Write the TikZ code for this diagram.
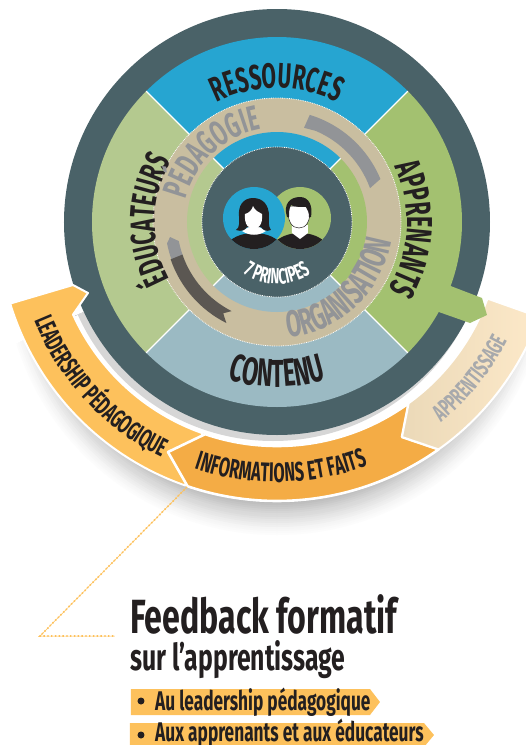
\documentclass[tikz,border=0pt]{standalone}
\usepackage{fontspec}
\usetikzlibrary{decorations.text}
\setmainfont{Fira Sans}
\newfontfamily\ringfont[FakeStretch=0.6]{Fira Sans}
\newfontfamily\titlefont[FakeStretch=0.67]{Fira Sans}
\newfontfamily\barfont[FakeStretch=0.64]{Fira Sans}
\newcommand{\ringtype}[1]{\ringfont\bfseries\fontsize{#1}{#1}\selectfont}
\definecolor{ringdark}{HTML}{4A6268}
\definecolor{resblue}{HTML}{26A5D1}
\definecolor{appgreen}{HTML}{A3C170}
\definecolor{edugreen}{HTML}{B4C98F}
\definecolor{contblue}{HTML}{9BBAC3}
\definecolor{pedbeige}{HTML}{C9BEA0}
\definecolor{ribbongrey}{HTML}{929497}
\definecolor{ribbondark}{HTML}{5B5752}
\definecolor{inkblack}{HTML}{231F20}
\definecolor{leadorange}{HTML}{FDC15C}
\definecolor{infoorange}{HTML}{F4AC45}
\definecolor{apprcream}{HTML}{FDE9C9}
\definecolor{apprtan}{HTML}{EBD9B8}
\definecolor{wordgrey}{HTML}{A7A9AC}
\tikzset{
  dotring/.style={white,line width=0.8pt,densely dotted},
  spoke/.style={white,line width=1.4pt},
  bandedge/.style={draw=white,line width=2pt,line join=round},
  fdotted/.style={leadorange,line width=0.5pt},
  bartext/.style={anchor=base west,inner sep=0pt,text=inkblack,font=\barfont\bfseries\fontsize{27}{27}\selectfont},
  titletext/.style={anchor=base west,inner sep=0pt,text=inkblack,font=\titlefont\bfseries\fontsize{#1}{#1}\selectfont},
  curved/.style={decorate,decoration={text along path,text align=center,text={#1}}}
}
\begin{document}
\begin{tikzpicture}[x=1pt,y=1pt]
  \useasboundingbox (-277,222) rectangle (249,-523);
  \coordinate (c) at (0,0);
  % shadow under the bands
  \begin{scope}
    \clip (0,0) -- (205:420) -- (270:420) -- (-25:420) -- cycle;
    \foreach \r in {279,277,...,239} {
      \pgfmathtruncatemacro{\shadeval}{pow(279-\r,1.5)*0.12}
      \fill[black!\shadeval] (0,-40) circle [radius=\r];
    }
    \fill[white] (c) circle [radius=224];
    \fill[black!16] (-4,-5) circle [radius=214];
  \end{scope}
  % rings
  \fill[ringdark] (c) circle [radius=213];
  \foreach \ang/\col in {45/resblue,135/edugreen,225/contblue,-45/appgreen} {
    \fill[\col] (\ang:185) arc [start angle=\ang,delta angle=90,radius=185] -- ({\ang+90}:75)
      arc [start angle={\ang+90},delta angle=-90,radius=75] -- cycle;
  }
  \fill[pedbeige] (c) circle [radius=124];
  \foreach \ang/\col in {45/resblue,135/edugreen,225/contblue,-45/appgreen} {
    \fill[\col] (\ang:90) arc [start angle=\ang,delta angle=90,radius=90] -- ({\ang+90}:75)
      arc [start angle={\ang+90},delta angle=-90,radius=75] -- cycle;
  }
  \foreach \ang in {45,135,225,315} {
    \draw[spoke] (\ang:124) -- (\ang:185);
    \draw[spoke] (\ang:75) -- (\ang:90);
  }
  \draw[dotring] (c) circle [radius=124];
  \fill[ringdark] (c) circle [radius=75];
  \draw[dotring] (c) circle [radius=75];
  % ribbons in the beige ring
  \fill[ribbongrey] (74:98) -- (73:112) arc [start angle=73,end angle=22.6,radius=112]
    -- (20:99) arc [start angle=20,end angle=67,radius=99] -- cycle;
  \fill[ribbongrey] (200:100) arc [start angle=200,end angle=191,radius=100]
    -- (188:108) -- (191:112) arc [start angle=191,end angle=200,radius=112] -- cycle;
  \fill[ribbondark] (199:100) arc [start angle=199,end angle=243,radius=100]
    -- (239.5:106) -- (243.4:113) arc [start angle=243.4,end angle=199,radius=112] -- cycle;
  % the two faces
  \fill[appgreen] (23,4) circle [radius=31];
  \fill[resblue] (-23,4) circle [radius=31];
  \begin{scope}
    \clip (-23,4) circle [radius=31];
    \fill[inkblack] (-23,-33) ellipse [x radius=32,y radius=22];
  \end{scope}
  \begin{scope}
    \clip (23,4) circle [radius=31];
    \fill[inkblack] (23,-34) ellipse [x radius=32,y radius=23];
  \end{scope}
  \fill[white] (-23,-2) -- (-35,-9) .. controls (-28,-14) and (-18,-14) .. (-11,-9) -- cycle;
  \fill[inkblack] (-24,24) .. controls (-34,24) and (-39,16) .. (-38,6)
    .. controls (-38,0) and (-37,-6) .. (-41,-8) .. controls (-35,-10) and (-32,-8) .. (-30,-5)
    -- (-16,-5) .. controls (-14,-8) and (-11,-10) .. (-6,-8)
    .. controls (-9,-4) and (-8,0) .. (-8,6) .. controls (-8,17) and (-14,24) .. (-24,24) -- cycle;
  \fill[white] (-32,8) .. controls (-28,9) and (-25,12) .. (-24,16)
    .. controls (-22,11) and (-18,10) .. (-15,8)
    .. controls (-14,-3) and (-19,-7) .. (-23,-7) .. controls (-28,-7) and (-33,-3) .. (-32,8) -- cycle;
  \fill[white] (15,-3) -- (15,-11) -- (23,-17) -- (31,-11) -- (31,-3) -- cycle;
  \filldraw[fill=white,draw=inkblack,line width=0.5pt] (11,16) .. controls (10,0) and (15,-6) .. (22,-6)
    .. controls (29,-6) and (34,0) .. (33,16) -- cycle;
  \fill[inkblack] (10,5) .. controls (6,18) and (13,25) .. (23,25)
    .. controls (32,25) and (36,16) .. (34,5) -- (32,5) .. controls (32,9) and (31,12) .. (29,15)
    .. controls (24,15) and (17,15) .. (14,17) .. controls (12,13) and (12,9) .. (12,5) -- cycle;
  % bands round the ring
  \draw[bandedge,fill=leadorange] (197:279) -- (-204,-63) -- (-189,-71) -- (204.4:224)
    arc [start angle=204.4,end angle=250.6,radius=224] -- (250.8:279)
    arc [start angle=250.8,end angle=197,radius=279] -- cycle;
  \draw[bandedge,fill=infoorange,line width=2.6pt] (251.3:224) arc [start angle=251.3,end angle=306,radius=224]
    -- (125,-215) -- (305.4:279) arc [start angle=305.4,end angle=251.3,radius=279]
    -- (-109,-230) -- cycle;
  \draw[bandedge,left color=apprtan,right color=apprcream] (-20:224) -- (-19.9:279)
    arc [start angle=-19.9,end angle=-54.6,radius=279] -- (125,-215) -- (-54:224)
    arc [start angle=-54,end angle=-20,radius=224] -- cycle;
  \fill[appgreen] (171,-63) -- (205,-76) -- (210,-93) -- (193,-101) -- (159,-89) -- cycle;
  % words on the curves
  \path[curved={|\ringtype{35}\color{inkblack}|RESSOURCES}] (150:134) arc [start angle=150,end angle=30,radius=134];
  \path[curved={|\ringtype{36}\color{inkblack}|APPRENANTS}] (57:130) arc [start angle=57,end angle=-63,radius=130];
  \path[curved={|\ringtype{35}\color{inkblack}|ÉDUCATEURS}] (239:122) arc [start angle=239,end angle=119,radius=122];
  \path[curved={|\ringtype{39}\color{inkblack}|CONTENU}] (220:165) arc [start angle=220,end angle=320,radius=165];
  \path[curved={|\ringtype{35}\color{ribbongrey}|PÉDAGOGIE}] (193:94) arc [start angle=193,end angle=73,radius=94];
  \path[curved={|\ringtype{37}\color{ribbongrey}|ORGANISATION}] (-117:116) arc [start angle=-117,end angle=23,radius=116];
  \path[curved={|\ringtype{22}\color{white}|7 PRINCIPES}] (210:62) arc [start angle=210,end angle=330,radius=62];
  \path[curved={|\ringtype{26}\color{inkblack}|LEADERSHIP PÉDAGOGIQUE}] (180:262) arc [start angle=180,end angle=266,radius=262];
  \path[curved={|\ringtype{27}\color{inkblack}|INFORMATIONS ET FAITS}] (240:260) arc [start angle=240,end angle=302,radius=260];
  \path[curved={|\ringtype{24}\color{wordgrey}|APPRENTISSAGE}] (-65:259) arc [start angle=-65,end angle=-13,radius=259];
  % dotted leader
  \coordinate (leadstart) at (-90,-265);
  \coordinate (leadcorner) at (-237,-414);
  \coordinate (leadend) at (-162,-414);
  \draw[fdotted] (leadstart) -- (leadcorner) -- (leadend);
  \draw[leadorange,line width=1.6pt,dash pattern=on 1.4pt off 2.4pt,yshift=1.2pt] (leadstart) -- (leadcorner) -- (leadend);
  % feedback list
  \node[titletext=48] (fbtitle) at (-147,-411) {Feedback formatif};
  \node[titletext=37] (fbsub) at (-147,-448) {sur l’apprentissage};
  \fill[leadorange] (-146,-467) -- (93,-467) -- (103,-480) -- (93,-493) -- (-146,-493) -- cycle;
  \fill[leadorange] (-147,-501) -- (147,-501) -- (157,-513) -- (147,-525) -- (-147,-525) -- cycle;
  \fill[inkblack] (-136,-479) circle [radius=3.5];
  \fill[inkblack] (-136,-513) circle [radius=3.5];
  \node[bartext] (baronetext) at (-122,-488) {Au leadership pédagogique};
  \node[bartext] (bartwotext) at (-122,-519) {Aux apprenants et aux éducateurs};
\end{tikzpicture}
\end{document}
